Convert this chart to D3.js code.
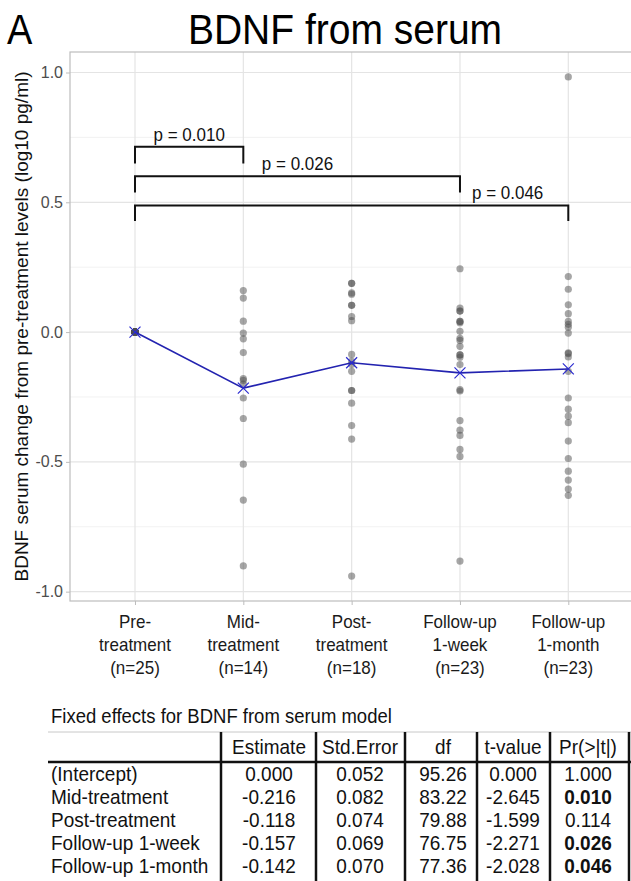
<!DOCTYPE html>
<html>
<head>
<meta charset="utf-8">
<script src="https://cdn.jsdelivr.net/npm/d3@7"></script>
<style>
  html, body { margin: 0; padding: 0; background: #fff; }
  svg { display: block; font-family: "Liberation Sans", Arial, sans-serif; }
</style>
</head>
<body>
<svg width="631" height="881"></svg>
<script>
// Groups and axis labels
const groups = ["Pre-treatment", "Mid-treatment", "Post-treatment", "Follow-up 1-week", "Follow-up 1-month"];
const groupLabels = [
  ["Pre-", "treatment", "(n=25)"],
  ["Mid-", "treatment", "(n=14)"],
  ["Post-", "treatment", "(n=18)"],
  ["Follow-up", "1-week", "(n=23)"],
  ["Follow-up", "1-month", "(n=23)"]
];
const yTicks = [-1.0, -0.5, 0.0, 0.5, 1.0];
const yMinor = [-0.75, -0.25, 0.25, 0.75];

// Individual changes (log10 pg/ml)
const preValues = [0, 0, 0, 0, 0, 0, 0, 0, 0, 0, 0, 0, 0, 0, 0, 0, 0, 0, 0, 0, 0, 0, 0, 0, 0];
const midValues = [0.160, 0.131, 0.042, -0.004, -0.026, -0.079, -0.179, -0.186, -0.200, -0.254, -0.333, -0.509, -0.647, -0.901];
const postValues = [0.188, 0.188, 0.151, 0.146, 0.103, 0.103, 0.060, 0.044, -0.086, -0.113, -0.125, -0.151, -0.225, -0.225, -0.274, -0.360, -0.412, -0.940];
const week1Values = [0.244, 0.092, 0.081, 0.081, 0.041, 0.041, 0.036, 0.003, -0.024, -0.032, -0.055, -0.088, -0.088, -0.097, -0.125, -0.222, -0.227, -0.341, -0.378, -0.398, -0.452, -0.479, -0.882];
const month1Values = [0.983, 0.214, 0.165, 0.105, 0.071, 0.041, 0.030, 0.019, -0.004, -0.080, -0.083, -0.096, -0.151, -0.254, -0.297, -0.324, -0.349, -0.420, -0.487, -0.536, -0.570, -0.605, -0.629];
const groupValues = [preValues, midValues, postValues, week1Values, month1Values];

// Model means
const meanValues = [0, -0.216, -0.118, -0.157, -0.142];

// Significance brackets
const bracketFrom = [0, 0, 0];
const bracketTo = [1, 3, 4];
const bracketLevel = [0.714, 0.600, 0.488];
const bracketDrop = [0.065, 0.062, 0.060];
const bracketText = ["p = 0.010", "p = 0.026", "p = 0.046"];

// Fixed effects table
const tableTitle = "Fixed effects for BDNF from serum model";
const tableHeader = ["Estimate", "Std.Error", "df", "t-value", "Pr(>|t|)"];
const termNames = ["(Intercept)", "Mid-treatment", "Post-treatment", "Follow-up 1-week", "Follow-up 1-month"];
const estimates = ["0.000", "-0.216", "-0.118", "-0.157", "-0.142"];
const stdErrors = ["0.052", "0.082", "0.074", "0.069", "0.070"];
const dfValues = ["95.26", "83.22", "79.88", "76.75", "77.36"];
const tValues = ["0.000", "-2.645", "-1.599", "-2.271", "-2.028"];
const pValues = ["1.000", "0.010", "0.114", "0.026", "0.046"];

const svg = d3.select("svg");

// text is a little taller than wide in the figure
const stretch = 1.1;
const addText = (parent, x, y, str) =>
  parent.append("text")
    .attr("transform", `translate(${x},${y}) scale(1,${stretch})`)
    .text(str);

// Panel area
const panel = { left: 70, top: 52, right: 640, bottom: 601 };

const xScale = d3.scalePoint()
  .domain(groups)
  .range([panel.left, 633.3])
  .padding(0.6);

const yScale = d3.scaleLinear()
  .domain([-1.036, 1.079])
  .range([panel.bottom, panel.top]);

// Title
addText(svg, 7, 44, "A").attr("font-size", 38);
addText(svg, 345, 44, "BDNF from serum")
  .attr("text-anchor", "middle").attr("font-size", 39);

// Gridlines
const grid = svg.append("g");
grid.selectAll(".minor").data(yMinor).join("line")
  .attr("x1", panel.left).attr("x2", panel.right)
  .attr("y1", d => yScale(d)).attr("y2", d => yScale(d))
  .attr("stroke", "#efefef").attr("stroke-width", 0.8);
grid.selectAll(".major").data(yTicks).join("line")
  .attr("x1", panel.left).attr("x2", panel.right)
  .attr("y1", d => yScale(d)).attr("y2", d => yScale(d))
  .attr("stroke", "#e4e4e4").attr("stroke-width", 1.2);
grid.selectAll(".vmajor").data(groups).join("line")
  .attr("x1", d => xScale(d)).attr("x2", d => xScale(d))
  .attr("y1", panel.top).attr("y2", panel.bottom)
  .attr("stroke", "#e4e4e4").attr("stroke-width", 1.2);

// Panel border
svg.append("rect")
  .attr("x", panel.left).attr("y", panel.top)
  .attr("width", panel.right - panel.left).attr("height", panel.bottom - panel.top)
  .attr("fill", "none").attr("stroke", "#bdbdbd").attr("stroke-width", 1.2);

// Axes
const yAxis = svg.append("g")
  .attr("transform", `translate(${panel.left},0)`)
  .call(d3.axisLeft(yScale).tickValues(yTicks).tickFormat(d => d.toFixed(1)).tickSize(4).tickPadding(3));
yAxis.select(".domain").remove();
yAxis.selectAll("line").attr("stroke", "#bdbdbd");
yAxis.selectAll("text").attr("font-size", 16).attr("fill", "#4d4d4d")
  .attr("font-family", "Liberation Sans, Arial, sans-serif");

const xAxis = svg.append("g")
  .attr("transform", `translate(0,${panel.bottom})`)
  .call(d3.axisBottom(xScale).tickSize(4).tickFormat(""));
xAxis.select(".domain").remove();
xAxis.selectAll("line").attr("stroke", "#bdbdbd");

const xLab = svg.append("g")
  .attr("text-anchor", "middle").attr("font-size", 17).attr("fill", "#1a1a1a");
groups.forEach((g, i) => {
  groupLabels[i].forEach((line, j) => {
    addText(xLab, xScale(g), 628 + j * 23, line);
  });
});

// Y axis title
svg.append("text")
  .attr("transform", `translate(28,${(panel.top + panel.bottom) / 2}) rotate(-90)`)
  .attr("text-anchor", "middle").attr("font-size", 19).attr("fill", "#111")
  .text("BDNF serum change from pre-treatment levels (log10 pg/ml)");

// Points
const points = groups.flatMap((g, i) => groupValues[i].map(v => ({ g, v })));
svg.append("g").selectAll("circle").data(points).join("circle")
  .attr("cx", d => xScale(d.g)).attr("cy", d => yScale(d.v))
  .attr("r", 3.6).attr("fill", "#4d4d4d").attr("fill-opacity", 0.5);

// Mean line with X markers
const meanData = groups.map((g, i) => ({ g, v: meanValues[i] }));
svg.append("path").datum(meanData)
  .attr("fill", "none").attr("stroke", "#2323b0").attr("stroke-width", 1.6)
  .attr("d", d3.line().x(d => xScale(d.g)).y(d => yScale(d.v)));
const cross = 5.5;
svg.append("g").selectAll("path").data(meanData).join("path")
  .attr("d", d => {
    const x = xScale(d.g), y = yScale(d.v);
    return `M${x - cross},${y - cross}L${x + cross},${y + cross}M${x - cross},${y + cross}L${x + cross},${y - cross}`;
  })
  .attr("stroke", "#2a2ad0").attr("stroke-width", 1.2).attr("fill", "none");

// Brackets
const br = svg.append("g")
  .attr("text-anchor", "middle").attr("font-size", 17).attr("fill", "#111");
bracketText.forEach((label, i) => {
  const x1 = xScale(groups[bracketFrom[i]]);
  const x2 = xScale(groups[bracketTo[i]]);
  const y = yScale(bracketLevel[i]);
  const yb = yScale(bracketLevel[i] - bracketDrop[i]);
  br.append("path")
    .attr("d", `M${x1},${yb}L${x1},${y}L${x2},${y}L${x2},${yb}`)
    .attr("fill", "none").attr("stroke", "#111").attr("stroke-width", 2);
  // last label sits toward the right end of its bracket
  const lx = i === 2 ? x1 + (x2 - x1) * 0.86 : (x1 + x2) / 2;
  addText(br, lx, y - 6, label);
});

// Table
const tbl = svg.append("g").attr("font-size", 19).attr("fill", "#111");
const colEdges = [221, 316, 405, 477, 550, 629];
const colCenters = [269, 360, 443, 513, 588];
const titleY = 723;
const lineTop = 732;
const headerY = 754;
const headerLine = 762;
const rowY0 = 781;
const rowStep = 23;

addText(tbl, 51, titleY, tableTitle).attr("font-size", 18.5);
tbl.append("line").attr("x1", 48).attr("x2", 631).attr("y1", lineTop).attr("y2", lineTop)
  .attr("stroke", "#c8c8c8").attr("stroke-width", 1);
tbl.append("line").attr("x1", 48).attr("x2", 631).attr("y1", headerLine).attr("y2", headerLine)
  .attr("stroke", "#111").attr("stroke-width", 2.5);
colEdges.forEach(x => {
  tbl.append("line").attr("x1", x).attr("x2", x).attr("y1", lineTop).attr("y2", 881)
    .attr("stroke", "#111").attr("stroke-width", 2.5);
});
tableHeader.forEach((h, j) => {
  addText(tbl, colCenters[j], headerY, h).attr("text-anchor", "middle");
});
const columns = [estimates, stdErrors, dfValues, tValues, pValues];
termNames.forEach((name, i) => {
  const y = rowY0 + i * rowStep;
  addText(tbl, 51, y, name);
  columns.forEach((col, j) => {
    const isBold = j === 4 && +col[i] < 0.05;
    addText(tbl, colCenters[j], y, col[i])
      .attr("text-anchor", "middle")
      .attr("font-weight", isBold ? "bold" : "normal");
  });
});
</script>
</body>
</html>
